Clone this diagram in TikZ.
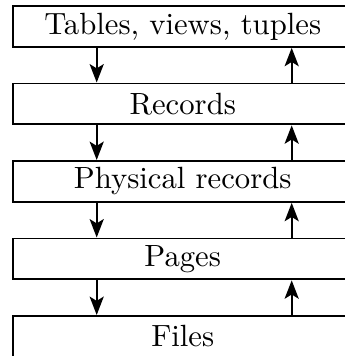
\documentclass[tikz,border=0pt]{standalone}
\usetikzlibrary{arrows.meta}
\begin{document}
\begin{tikzpicture}[x=0.3257pt,y=-0.3257pt,
  layer/.style={draw, line width=0.6pt, rectangle, minimum width=110.8pt,
    minimum height=13.35pt, inner sep=0pt, anchor=north west},
  flow/.style={line width=0.6pt, -{Stealth[length=6pt,width=4.6pt,inset=1.4pt]}}]
\useasboundingbox (0,0) rectangle (345,356);
\clip (0,0) rectangle (345,356);

% storage layers, top to bottom
\node[layer] (tables)   at (11.7,5)     {Tables, views, tuples};
\node[layer] (records)  at (11.7,82.5)  {Records};
\node[layer] (physical) at (11.7,160)   {Physical records};
\node[layer] (pages)    at (11.7,237.5) {Pages};
\node[layer] (files)    at (11.7,315)   {Files};

% columns for the downward and upward arrows
\coordinate (dx) at (96.7,0);
\coordinate (ux) at (291.7,0);

\foreach \a/\b in {tables/records, records/physical, physical/pages, pages/files} {
  \draw[flow] (\a.south -| dx) -- (\b.north -| dx);
  \draw[flow] (\b.north -| ux) -- (\a.south -| ux);
}
\end{tikzpicture}
\end{document}
